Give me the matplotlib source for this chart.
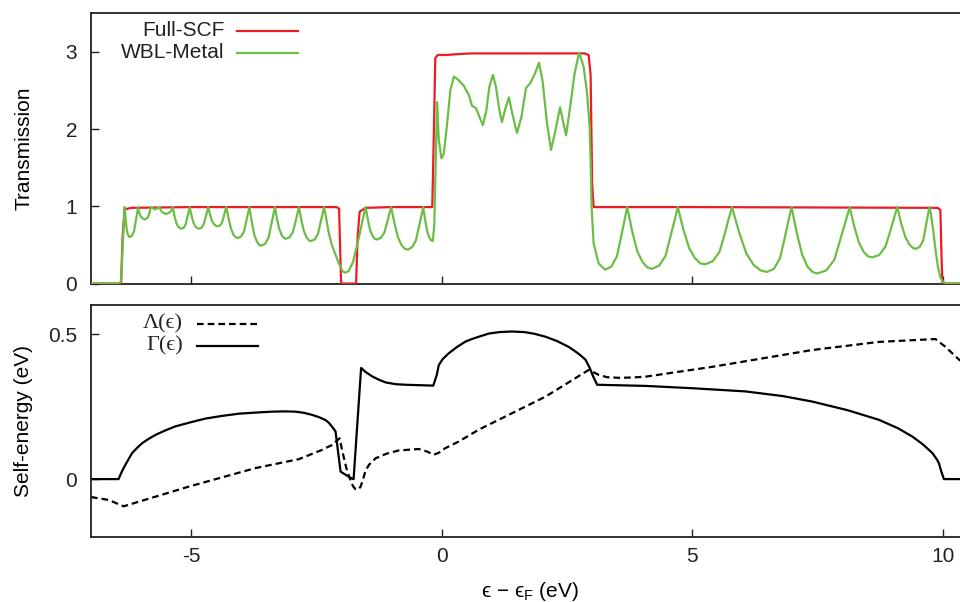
import numpy as np
import matplotlib.pyplot as plt

plt.rcParams['font.family'] = ['Liberation Sans', 'DejaVu Sans']
plt.rcParams['mathtext.fontset'] = 'custom'
plt.rcParams['mathtext.rm'] = 'Liberation Sans'
plt.rcParams['axes.unicode_minus'] = False

# transmission, full self-consistent leads: (energy, T)
scf = np.array([
    (-7.0, 0.0), (-6.40, 0.0), (-6.37, 0.6), (-6.33, 0.96), (-6.20, 0.98), (-5.0, 0.99),
    (-2.10, 0.99), (-2.05, 0.97), (-2.03, 0.5), (-2.01, 0.0), (-1.71, 0.0), (-1.68, 0.6),
    (-1.64, 0.93), (-1.52, 0.98), (-1.0, 0.99), (-0.19, 0.99), (-0.16, 1.9), (-0.13, 2.92),
    (-0.08, 2.96), (0.1, 2.96), (0.3, 2.97), (0.6, 2.98), (1.0, 2.98), (2.0, 2.98),
    (2.85, 2.98), (2.93, 2.96), (2.97, 2.7), (3.00, 1.3), (3.03, 0.99), (5.0, 0.99),
    (9.90, 0.98), (9.95, 0.95), (9.97, 0.4), (9.99, 0.0), (10.5, 0.0)])

# transmission, wide-band-limit metal leads: (energy, T)
wbl = np.array([
    (-7.0, 0.0), (-6.45, 0.0), (-6.40, 0.03), (-6.33, 0.99),
    (-6.31, 0.84), (-6.289, 0.71), (-6.268, 0.64), (-6.23, 0.60), (-6.182, 0.62), (-6.14, 0.68),
    (-6.108, 0.80), (-6.082, 0.90), (-6.06, 0.99),
    (-6.04, 0.92), (-6.00, 0.86), (-5.96, 0.84), (-5.93, 0.83), (-5.90, 0.84), (-5.86, 0.86),
    (-5.83, 0.92), (-5.81, 0.99), (-5.72, 0.96), (-5.63, 0.99),
    (-5.61, 0.95), (-5.57, 0.92), (-5.50, 0.90), (-5.43, 0.92), (-5.39, 0.95), (-5.37, 0.99),
    (-5.336, 0.88), (-5.30, 0.79), (-5.265, 0.74), (-5.231, 0.72), (-5.20, 0.71),
    (-5.152, 0.72), (-5.11, 0.77), (-5.078, 0.86), (-5.052, 0.93), (-5.03, 0.99),
    (-4.994, 0.88), (-4.956, 0.79), (-4.918, 0.74), (-4.882, 0.72), (-4.85, 0.71),
    (-4.797, 0.72), (-4.749, 0.77), (-4.713, 0.86), (-4.685, 0.93), (-4.66, 0.99),
    (-4.624, 0.89), (-4.586, 0.81), (-4.548, 0.77), (-4.512, 0.75), (-4.48, 0.74),
    (-4.43, 0.75), (-4.385, 0.79), (-4.35, 0.87), (-4.323, 0.94), (-4.30, 0.99),
    (-4.254, 0.84), (-4.206, 0.71), (-4.157, 0.63), (-4.111, 0.60), (-4.07, 0.59),
    (-4.006, 0.61), (-3.948, 0.67), (-3.904, 0.80), (-3.87, 0.90), (-3.84, 0.99),
    (-3.792, 0.80), (-3.742, 0.63), (-3.691, 0.545), (-3.643, 0.50), (-3.60, 0.49),
    (-3.524, 0.515), (-3.457, 0.595), (-3.406, 0.75), (-3.365, 0.88), (-3.33, 0.99),
    (-3.286, 0.83), (-3.24, 0.70), (-3.194, 0.625), (-3.15, 0.59), (-3.11, 0.58),
    (-3.037, 0.60), (-2.972, 0.665), (-2.923, 0.79), (-2.884, 0.90), (-2.85, 0.99),
    (-2.802, 0.82), (-2.752, 0.68), (-2.701, 0.60), (-2.653, 0.56), (-2.61, 0.55),
    (-2.537, 0.57), (-2.472, 0.64), (-2.423, 0.78), (-2.384, 0.89), (-2.35, 0.99),
    (-2.30, 0.82), (-2.26, 0.67), (-2.19, 0.49), (-2.06, 0.27), (-1.98, 0.16), (-1.93, 0.14),
    (-1.86, 0.16), (-1.77, 0.28), (-1.66, 0.58), (-1.57, 0.85), (-1.52, 0.99),
    (-1.476, 0.83), (-1.43, 0.69), (-1.384, 0.62), (-1.34, 0.58), (-1.30, 0.57),
    (-1.219, 0.59), (-1.146, 0.66), (-1.091, 0.79), (-1.048, 0.90), (-1.01, 0.99),
    (-0.944, 0.78), (-0.875, 0.60), (-0.805, 0.50), (-0.739, 0.45), (-0.68, 0.44),
    (-0.593, 0.47), (-0.516, 0.56), (-0.457, 0.73), (-0.41, 0.87), (-0.37, 0.99),
    (-0.332, 0.82), (-0.292, 0.68), (-0.252, 0.60), (-0.214, 0.56), (-0.18, 0.55),
    (-0.15, 0.75), (-0.13, 1.30), (-0.11, 1.85), (-0.094, 2.35), (-0.06, 1.86),
    (-0.006, 1.62), (0.04, 1.68), (0.106, 2.07), (0.17, 2.50), (0.24, 2.68), (0.325, 2.64),
    (0.44, 2.56), (0.54, 2.44), (0.605, 2.30), (0.685, 2.27), (0.75, 2.16), (0.82, 2.05),
    (0.89, 2.245), (0.95, 2.55), (1.02, 2.70), (1.08, 2.55), (1.15, 2.245), (1.20, 2.09),
    (1.27, 2.27), (1.34, 2.41), (1.40, 2.22), (1.50, 1.95), (1.59, 2.16), (1.68, 2.53),
    (1.77, 2.60), (1.86, 2.72), (1.94, 2.86), (2.01, 2.63), (2.10, 2.07), (2.18, 1.73),
    (2.27, 1.99), (2.36, 2.28), (2.43, 2.07), (2.48, 1.92), (2.56, 2.28), (2.65, 2.72),
    (2.74, 2.99), (2.83, 2.81), (2.90, 2.46), (2.95, 2.03), (2.97, 1.6), (2.99, 0.99),
    (3.03, 0.52), (3.13, 0.26), (3.26, 0.18),
    (3.383, 0.22), (3.493, 0.35), (3.577, 0.60), (3.643, 0.81), (3.70, 0.99),
    (3.798, 0.68), (3.90, 0.42), (4.004, 0.28), (4.102, 0.21), (4.19, 0.19),
    (4.336, 0.23), (4.466, 0.36), (4.564, 0.61), (4.642, 0.81), (4.71, 0.99),
    (4.82, 0.70), (4.936, 0.46), (5.051, 0.33), (5.161, 0.26), (5.26, 0.25),
    (5.408, 0.29), (5.541, 0.41), (5.642, 0.63), (5.721, 0.83), (5.79, 0.99),
    (5.93, 0.67), (6.077, 0.39), (6.224, 0.24), (6.364, 0.17), (6.49, 0.15),
    (6.627, 0.19), (6.75, 0.33), (6.843, 0.59), (6.916, 0.81), (6.98, 0.99),
    (7.082, 0.66), (7.189, 0.38), (7.296, 0.22), (7.398, 0.15), (7.49, 0.13),
    (7.672, 0.17), (7.835, 0.31), (7.958, 0.58), (8.056, 0.80), (8.14, 0.99),
    (8.23, 0.74), (8.325, 0.53), (8.419, 0.41), (8.509, 0.35), (8.59, 0.34),
    (8.73, 0.37), (8.855, 0.48), (8.95, 0.68), (9.025, 0.85), (9.09, 0.99),
    (9.166, 0.78), (9.246, 0.61), (9.326, 0.51), (9.402, 0.46), (9.47, 0.45),
    (9.543, 0.48), (9.608, 0.56), (9.657, 0.73), (9.696, 0.87), (9.73, 0.99),
    (9.76, 0.90), (9.80, 0.72), (9.85, 0.45), (9.90, 0.22), (9.95, 0.08), (10.0, 0.02),
    (10.06, 0.0), (10.5, 0.0)])

# broadening Gamma(e) of the lead self-energy (eV)
gamma = np.array([
    (-7.0, 0.0), (-6.45, 0.0), (-6.40, 0.02), (-6.35, 0.038), (-6.28, 0.060), (-6.18, 0.090),
    (-6.08, 0.108), (-5.98, 0.124), (-5.85, 0.139), (-5.71, 0.153), (-5.52, 0.168),
    (-5.32, 0.182), (-5.02, 0.196), (-4.72, 0.209), (-4.40, 0.218), (-4.05, 0.226),
    (-3.70, 0.230), (-3.39, 0.233), (-3.15, 0.234), (-2.92, 0.233), (-2.75, 0.229),
    (-2.59, 0.222), (-2.45, 0.214), (-2.32, 0.204), (-2.25, 0.194), (-2.19, 0.181),
    (-2.15, 0.172), (-2.12, 0.164), (-2.02, 0.026), (-1.82, 0.004), (-1.76, 0.0),
    (-1.61, 0.384), (-1.52, 0.370), (-1.39, 0.355), (-1.25, 0.343), (-1.12, 0.334),
    (-0.92, 0.328), (-0.72, 0.326), (-0.17, 0.323), (-0.10, 0.36), (-0.06, 0.394),
    (0.02, 0.415), (0.14, 0.435), (0.30, 0.456), (0.47, 0.475), (0.60, 0.484), (0.74, 0.492),
    (0.94, 0.503), (1.15, 0.508), (1.40, 0.510), (1.65, 0.508), (1.85, 0.502), (2.07, 0.492),
    (2.30, 0.477), (2.53, 0.457), (2.70, 0.437), (2.80, 0.423), (2.87, 0.412), (2.95, 0.385),
    (3.02, 0.355), (3.10, 0.326), (4.07, 0.322), (5.0, 0.314), (6.06, 0.303), (6.8, 0.287),
    (7.39, 0.268), (8.1, 0.238), (8.72, 0.205), (9.10, 0.176), (9.39, 0.147), (9.60, 0.120),
    (9.79, 0.090), (9.88, 0.068), (9.92, 0.055), (9.97, 0.025), (10.02, 0.0), (10.5, 0.0)])

# level shift Lambda(e) of the lead self-energy (eV)
lam = np.array([
    (-7.0, -0.062), (-6.65, -0.072), (-6.35, -0.094), (-5.05, -0.026), (-3.72, 0.038),
    (-2.85, 0.069), (-2.39, 0.101), (-2.19, 0.118), (-2.04, 0.141), (-1.96, 0.078),
    (-1.90, 0.035), (-1.82, -0.005), (-1.77, -0.025), (-1.72, -0.035), (-1.67, -0.036),
    (-1.62, -0.026), (-1.57, 0.0), (-1.52, 0.030), (-1.45, 0.050), (-1.32, 0.072),
    (-1.10, 0.088), (-0.86, 0.099), (-0.46, 0.104), (-0.29, 0.095), (-0.16, 0.084),
    (-0.05, 0.092), (0.07, 0.107), (0.34, 0.130), (0.74, 0.171), (2.07, 0.285), (2.93, 0.377),
    (3.0, 0.372), (3.13, 0.360), (3.3, 0.352), (3.53, 0.350), (3.8, 0.351), (4.07, 0.354),
    (5.40, 0.388), (7.39, 0.446), (8.72, 0.474), (9.85, 0.484), (10.05, 0.457),
    (10.32, 0.413), (10.5, 0.39)])

red = '#ec1c24'
green = '#6cbd45'
spine_col = '#222222'

fig = plt.figure(figsize=(9.6, 6.02), dpi=100)
ax1 = fig.add_axes([0.0948, 0.529, 0.9135, 0.449])
ax2 = fig.add_axes([0.0948, 0.108, 0.9135, 0.3846])

ax1.plot(scf[:, 0], scf[:, 1], color=red, lw=1.6, zorder=3)
ax1.plot(wbl[:, 0], wbl[:, 1], color=green, lw=1.6, zorder=4)
ax1.set_xlim(-7, 10.5)
ax1.set_ylim(0, 3.5)
ax1.set_yticks([0, 1, 2, 3])
ax1.set_xticks([-5, 0, 5, 10])
ax1.tick_params(labelbottom=False)
ax1.set_ylabel('Transmission', fontsize=15)

ax2.plot(lam[:, 0], lam[:, 1], color='black', lw=1.6, ls=(0, (3, 1.8)))
ax2.plot(gamma[:, 0], gamma[:, 1], color='black', lw=1.6)
ax2.set_xlim(-7, 10.5)
ax2.set_ylim(-0.2, 0.6)
ax2.set_yticks([0, 0.5])
ax2.set_yticklabels(['0', '0.5'])
ax2.set_xticks([-5, 0, 5, 10])
ax2.set_ylabel('Self-energy (eV)', fontsize=15)
ax2.set_xlabel('ϵ − ϵ$_{\\rm F}$ (eV)', fontsize=15)
ax2.xaxis.set_label_coords(0.5, -0.185)

for ax in (ax1, ax2):
    for s in ax.spines.values():
        s.set_color(spine_col)
        s.set_linewidth(1.3)
    ax.tick_params(direction='in', length=5.5, width=1, colors=spine_col,
                   labelcolor='#222222', labelsize=15, top=False, right=False)
    ax.tick_params(axis='y', pad=10)
    ax.tick_params(axis='x', pad=7)
    ax.yaxis.set_label_coords(-0.066, 0.5)

# key drawn gnuplot style: label right-aligned, sample line to its right
keys1 = [('Full-SCF', red, 0.935), ('WBL-Metal', green, 0.853)]
for label, col, yk in keys1:
    ax1.text(0.152, yk, label, transform=ax1.transAxes, ha='right', va='center',
             fontsize=15, color='#222222')
    ax1.plot([0.1665, 0.236], [yk, yk], transform=ax1.transAxes, color=col, lw=1.6)

keys2 = [('Λ(ϵ)', (0, (3, 1.8)), 0.920), ('Γ(ϵ)', '-', 0.826)]
for label, ls, yk in keys2:
    ax2.text(0.105, yk, label, transform=ax2.transAxes, ha='right', va='center',
             fontsize=16, color='#222222', family=['Liberation Serif', 'DejaVu Serif'])
    ax2.plot([0.1205, 0.1908], [yk, yk], transform=ax2.transAxes, color='black', lw=1.6, ls=ls)

plt.savefig('out.png', dpi=100)
